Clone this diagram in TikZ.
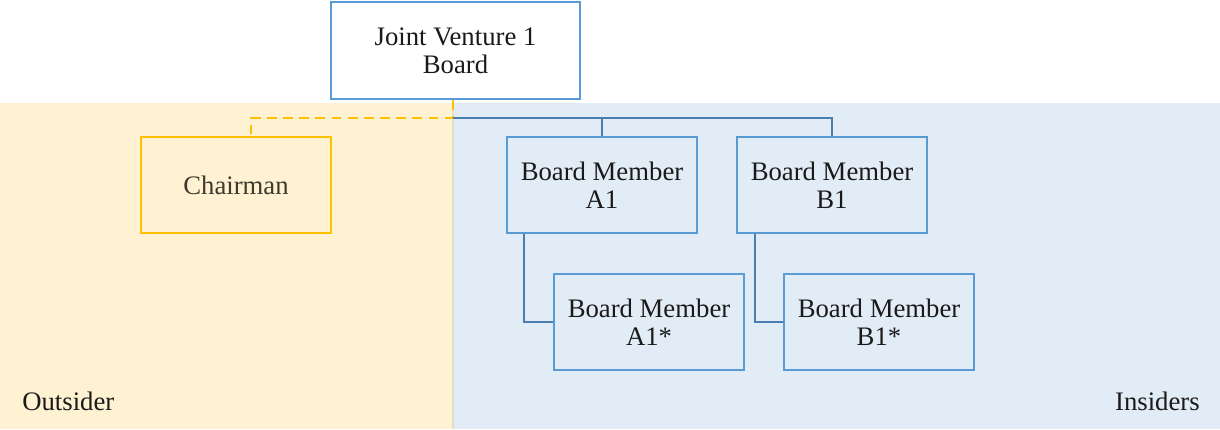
\documentclass[tikz,border=0pt]{standalone}
\usepackage{fontspec}
\setmainfont{Liberation Serif}
\usepackage{xcolor}
\usetikzlibrary{calc}

\definecolor{boxblue}{HTML}{5B9BD5}
\definecolor{lineblue}{HTML}{4A7EB0}
\definecolor{chairgold}{HTML}{FFC000}
\definecolor{outfill}{HTML}{FFF2D2}
\definecolor{infill}{HTML}{E1ECF6}
\definecolor{splitline}{HTML}{E2DFCB}
\definecolor{inktext}{HTML}{1A1A1A}

\begin{document}
\begin{tikzpicture}[x=0.025cm,y=-0.025cm,
		member/.style={draw=boxblue,line width=1.7pt,minimum width=4.75cm,minimum height=2.4cm,
			align=center,text=inktext,font=\fontsize{19}{20}\selectfont,inner sep=0pt},
		link/.style={draw=lineblue,line width=1.5pt},
		outlink/.style={draw=chairgold,line width=1.5pt,dash pattern=on 7pt off 4.5pt},
		zone/.style={font=\fontsize{19}{20}\selectfont,text=inktext,inner sep=0pt}]
	\useasboundingbox (0,0) rectangle (1220,429);
	% the two zones
	\fill[outfill] (0,103) rectangle (453,429);
	\fill[infill] (453,103) rectangle (1220,429);
	\draw[splitline,line width=1pt] (453,103) -- (453,429);
	\node[zone,anchor=base west] (outside) at (22,410) {Outsider};
	\node[zone,anchor=base east] (inside) at (1200,410) {Insiders};
	% boxes
	\node[member,fill=white,minimum width=6.225cm,minimum height=2.425cm] (jv) at (455.5,50.5) {Joint Venture 1\\Board};
	\node[member,draw=chairgold,text=black!75!olive] (chair) at (236,185) {Chairman};
	\node[member] (a1) at (602,185) {Board Member\\A1};
	\node[member] (b1) at (832,185) {Board Member\\B1};
	\node[member] (a1s) at (649,322) {Board Member\\A1*};
	\node[member] (b1s) at (879,322) {Board Member\\B1*};
	% connectors
	\coordinate (hub) at (453,118);
	\draw[outlink] (jv.south -| hub) -- (hub) -| ($(chair.north)+(15,0)$);
	\draw[link] (hub) -| (a1.north);
	\draw[link] (hub) -| (b1.north);
	\draw[link] ($(a1.south west)+(18,0)$) |- (a1s.west);
	\draw[link] ($(b1.south west)+(19,0)$) |- (b1s.west);
\end{tikzpicture}
\end{document}
